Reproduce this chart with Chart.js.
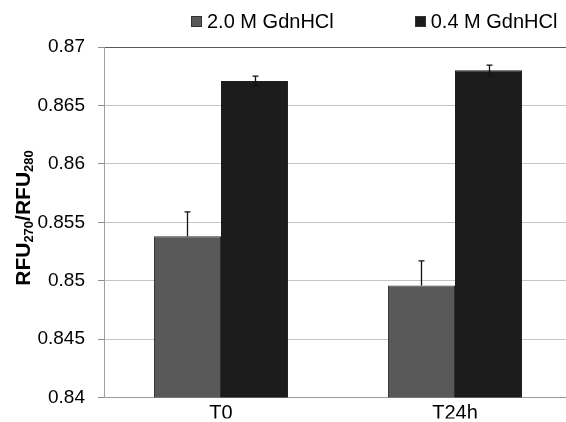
<!DOCTYPE html>
<html>
<head>
<meta charset="utf-8">
<script src="https://cdn.jsdelivr.net/npm/chart.js@4.4.1/dist/chart.umd.min.js"></script>
<style>
  body { margin: 0; overflow: hidden; background: #fff; font-family: "Liberation Sans", Arial, sans-serif; }
  #wrap { position: relative; width: 566px; height: 422px; overflow: hidden; }
  #barChart { display: block; }
  #legend { position: absolute; top: 10px; left: 191px; display: flex; align-items: center; font-size: 20px; color: #000; }
  #legend .item { display: flex; align-items: center; }
  #legend .box { width: 11px; height: 11px; margin-right: 5px; box-sizing: border-box; }
</style>
</head>
<body>
<div id="wrap">
  <canvas id="barChart" width="580" height="422"></canvas>
  <div id="legend"></div>
</div>
<script>
const categories = ['T0', 'T24h'];
const seriesNames = ['2.0 M GdnHCl', '0.4 M GdnHCl'];
const greyValues = [0.8538, 0.8496];
const blackValues = [0.8671, 0.8680];
// error bars: grey shows only the upper half, black shows both
const greyErrUp = [0.0021, 0.0021];
const greyErrDown = [0, 0];
const blackErrUp = [0.0004, 0.00045];
const blackErrDown = [0.0004, 0.00045];
const yTicks = [0.84, 0.845, 0.85, 0.855, 0.86, 0.865, 0.87];

const colors = ['#595959', '#1c1c1c'];

// html legend
document.getElementById('legend').innerHTML = seriesNames.map((name, i) => `
  <div class="item" style="margin-right:${i === 0 ? 81 : 0}px">
    <div class="box" style="background:${colors[i]};border:1px solid #333"></div>
    <span>${name}</span>
  </div>`).join('');

const errorBarPlugin = {
  id: 'errorBars',
  afterDatasetsDraw(chart) {
    const ctx = chart.ctx;
    const y = chart.scales.y;
    const errs = [[greyErrUp, greyErrDown], [blackErrUp, blackErrDown]];
    ctx.save();
    ctx.strokeStyle = '#111';
    ctx.lineWidth = 1.3;
    chart.data.datasets.forEach((ds, di) => {
      const meta = chart.getDatasetMeta(di);
      meta.data.forEach((bar, i) => {
        const v = ds.data[i];
        const top = y.getPixelForValue(v + errs[di][0][i]);
        const bot = y.getPixelForValue(v - errs[di][1][i]);
        const x = Math.round(bar.x) + 0.5;
        ctx.beginPath();
        ctx.moveTo(x, top);
        ctx.lineTo(x, bot);
        ctx.moveTo(x - 3, top);
        ctx.lineTo(x + 3, top);
        if (errs[di][1][i] > 0) {
          ctx.moveTo(x - 3, bot);
          ctx.lineTo(x + 3, bot);
        }
        ctx.stroke();
      });
    });
    ctx.restore();
  }
};

// y axis title with subscripts
const yTitlePlugin = {
  id: 'yTitle',
  afterDraw(chart) {
    const ctx = chart.ctx;
    const parts = [['RFU', 21], ['270', 13], ['/RFU', 21], ['280', 13]];
    ctx.save();
    let total = 0;
    parts.forEach(p => {
      ctx.font = 'bold ' + p[1] + 'px "Liberation Sans", Arial';
      total += ctx.measureText(p[0]).width;
    });
    ctx.translate(30, 218);
    ctx.rotate(-Math.PI / 2);
    ctx.fillStyle = '#000';
    ctx.textBaseline = 'alphabetic';
    let x = -total / 2;
    parts.forEach(p => {
      ctx.font = 'bold ' + p[1] + 'px "Liberation Sans", Arial';
      ctx.fillText(p[0], x, p[1] === 13 ? 3 : 0);
      x += ctx.measureText(p[0]).width;
    });
    ctx.restore();
  }
};

const barChart = new Chart(document.getElementById('barChart'), {
  type: 'bar',
  data: {
    labels: categories,
    datasets: [{
      label: seriesNames[0],
      data: greyValues,
      backgroundColor: colors[0],
      borderColor: '#2e2e2e',
      borderWidth: 1,
      barPercentage: 1,
      categoryPercentage: 0.573
    }, {
      label: seriesNames[1],
      data: blackValues,
      backgroundColor: colors[1],
      borderColor: '#1c1c1c',
      borderWidth: 1,
      barPercentage: 1,
      categoryPercentage: 0.573
    }]
  },
  options: {
    responsive: false,
    animation: false,
    layout: { padding: { top: 47, right: 8, left: 0, bottom: 0 } },
    plugins: {
      legend: { display: false },
      tooltip: { enabled: false }
    },
    scales: {
      x: {
        grid: { display: false },
        border: { color: '#9a9a9a' },
        ticks: { color: '#000', padding: -4, font: { family: '"Liberation Sans", Arial', size: 20 } },
        afterFit: s => { s.height = 21; }
      },
      y: {
        min: yTicks[0],
        max: yTicks[yTicks.length - 1],
        afterBuildTicks: s => { s.ticks = yTicks.map(v => ({ value: v })); },
        afterFit: s => { s.width = 104; },
        border: { color: '#a0a0a0' },
        grid: {
          color: c => c.tick && Math.abs(c.tick.value - 0.87) < 1e-9 ? '#5a5a5a' : (c.tick && Math.abs(c.tick.value - 0.84) < 1e-9 ? '#9a9a9a' : '#c4c4c4'),
          tickColor: '#8c8c8c',
          tickLength: 6
        },
        ticks: {
          color: '#000',
          padding: 13,
          font: { family: '"Liberation Sans", Arial', size: 19 },
          callback: v => parseFloat(v.toFixed(3)).toString()
        }
      }
    }
  },
  plugins: [errorBarPlugin, yTitlePlugin]
});
</script>
</body>
</html>
